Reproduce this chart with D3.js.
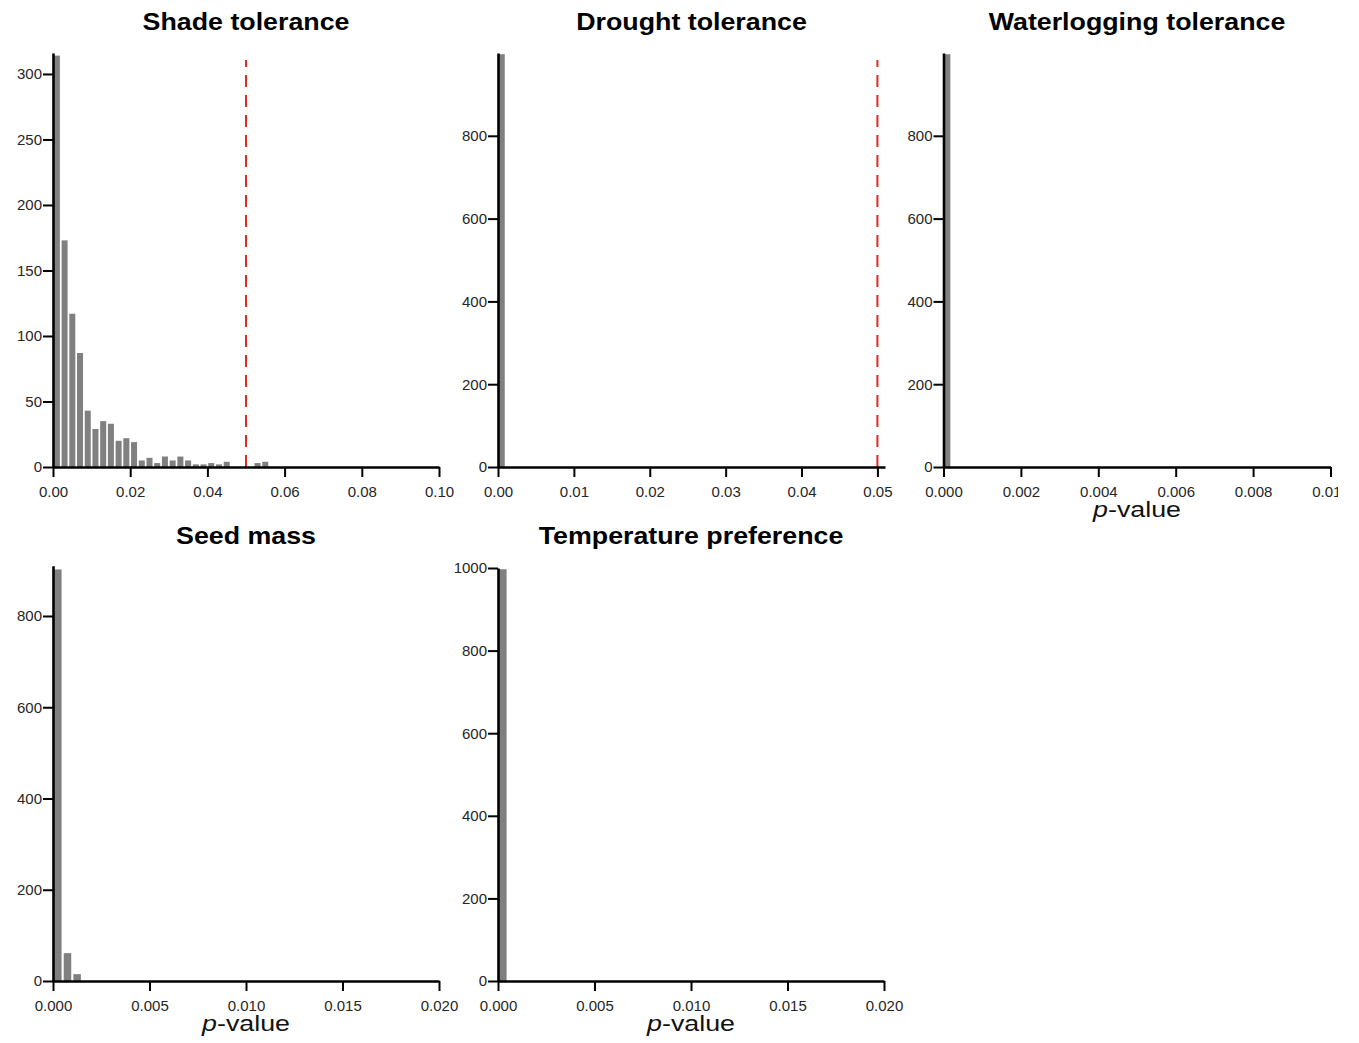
<!DOCTYPE html>
<html>
<head>
<meta charset="utf-8">
<script src="https://cdn.jsdelivr.net/npm/d3@7/dist/d3.min.js"></script>
<style>
  html, body { margin: 0; padding: 0; background: #fff; }
  svg { display: block; font-family: "Liberation Sans", Arial, Helvetica, sans-serif; }
</style>
</head>
<body>
<svg id="chart" width="1359" height="1043"></svg>
<script>
// Histograms of permutation p-values for each trait
const panelTitles = ["Shade tolerance", "Drought tolerance", "Waterlogging tolerance", "Seed mass", "Temperature preference"];

// bin widths of each histogram
const binWidths = [0.002, 0.001, 0.0002, 0.0005, 0.0005];

// counts per bin, starting at p = 0
const shadeCounts = [314, 173, 117, 87, 43, 29, 35, 33, 20, 22, 19, 5, 7, 3, 8, 5, 8, 5, 2, 2, 3, 2, 4, 0, 0, 0, 3, 4];
const droughtCounts = [997];
const waterloggingCounts = [997];
const seedMassCounts = [902, 61, 15];
const temperatureCounts = [997];

// x domains and tick values
const xDomains = [[0, 0.10], [0, 0.051], [0, 0.010], [0, 0.020], [0, 0.020]];
const xTicks = [
  [0, 0.02, 0.04, 0.06, 0.08, 0.10],
  [0, 0.01, 0.02, 0.03, 0.04, 0.05],
  [0, 0.002, 0.004, 0.006, 0.008, 0.010],
  [0, 0.005, 0.010, 0.015, 0.020],
  [0, 0.005, 0.010, 0.015, 0.020]
];
const xTickFormats = [".2f", ".2f", ".3f", ".3f", ".3f"];

// y domains and tick values
const yDomains = [[0, 316], [0, 1000], [0, 1000], [0, 910], [0, 1000]];
const yTicks = [
  [0, 50, 100, 150, 200, 250, 300],
  [0, 200, 400, 600, 800],
  [0, 200, 400, 600, 800],
  [0, 200, 400, 600, 800],
  [0, 200, 400, 600, 800, 1000]
];

// significance threshold (dashed line), null where not drawn
const thresholds = [0.05, 0.05, null, null, null];
const showXLabel = [false, false, true, true, true];

const allCounts = [shadeCounts, droughtCounts, waterloggingCounts, seedMassCounts, temperatureCounts];

// panel frames
const frames = [
  { x0: 53,    x1: 439,    y0: 467, y1: 53 },
  { x0: 498,   x1: 885,    y0: 467, y1: 53 },
  { x0: 943.5, x1: 1330.5, y0: 467, y1: 53 },
  { x0: 53,    x1: 439,    y0: 981, y1: 565.8 },
  { x0: 498,   x1: 884,    y0: 981, y1: 568 }
];

const svg = d3.select("#chart");
svg.append("defs").append("clipPath").attr("id", "page-clip")
  .append("rect").attr("x", 0).attr("y", 0).attr("width", 1338).attr("height", 1043);

const root = svg.append("g").attr("clip-path", "url(#page-clip)");

panelTitles.forEach((title, i) => {
  const f = frames[i];
  const x = d3.scaleLinear().domain(xDomains[i]).range([f.x0, f.x1]);
  const y = d3.scaleLinear().domain(yDomains[i]).range([f.y0, f.y1]);
  const g = root.append("g");

  const bins = allCounts[i].map((c, k) => ({ lo: k * binWidths[i], hi: (k + 1) * binWidths[i], count: c }));

  // bars
  g.selectAll("rect.bar").data(bins.filter(d => d.count > 0)).join("rect")
    .attr("class", "bar")
    .attr("x", d => { const w = x(d.hi) - x(d.lo); return x(d.lo) + w * 0.11; })
    .attr("width", d => (x(d.hi) - x(d.lo)) * 0.78)
    .attr("y", d => y(d.count))
    .attr("height", d => y(0) - y(d.count))
    .attr("fill", "#808080");

  // threshold line
  if (thresholds[i] !== null) {
    g.append("line")
      .attr("x1", x(thresholds[i])).attr("x2", x(thresholds[i]))
      .attr("y1", y(0)).attr("y2", 60)
      .attr("stroke", "#e02a24").attr("stroke-width", 2)
      .attr("stroke-dasharray", "12,8");
  }

  // x axis
  const xa = g.append("g").attr("transform", `translate(0,${f.y0})`)
    .call(d3.axisBottom(x).tickValues(xTicks[i]).tickFormat(d3.format(xTickFormats[i])).tickSize(10).tickSizeOuter(0).tickPadding(9));
  // y axis
  const ya = g.append("g").attr("transform", `translate(${f.x0},0)`)
    .call(d3.axisLeft(y).tickValues(yTicks[i]).tickFormat(d3.format("d")).tickSize(10).tickSizeOuter(0).tickPadding(1));

  [xa, ya].forEach(a => {
    a.select(".domain").attr("stroke", "#000").attr("stroke-width", 2.6);
    a.selectAll(".tick line").attr("stroke", "#000").attr("stroke-width", 2);
    a.selectAll(".tick text").attr("fill", "#262626").style("font-size", "15px");
  });

  // title (slightly widened lettering)
  root.append("text")
    .attr("transform", `translate(${(f.x0 + f.x1) / 2},${i < 3 ? 30 : 544}) scale(1.14,1)`)
    .attr("text-anchor", "middle")
    .style("font-size", "23.5px").style("font-weight", "bold").attr("fill", "#000")
    .text(title);

  // x label
  if (showXLabel[i]) {
    const t = root.append("text")
      .attr("transform", `translate(${(f.x0 + f.x1) / 2},${f.y0 + 50}) scale(1.22,1)`)
      .attr("text-anchor", "middle")
      .style("font-size", "22px").attr("fill", "#111");
    t.append("tspan").style("font-style", "italic").text("p");
    t.append("tspan").text("-value");
  }
});
</script>
</body>
</html>
